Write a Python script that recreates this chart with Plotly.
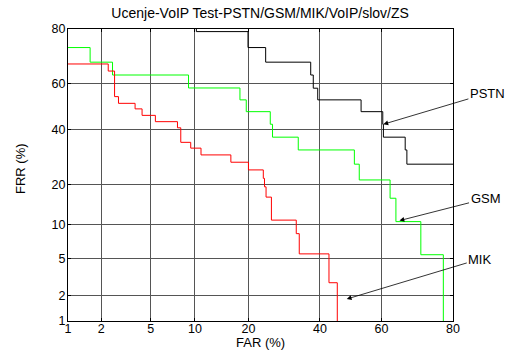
import plotly.graph_objects as go
from statistics import NormalDist

nd = NormalDist()

def probit(v):
    return [nd.inv_cdf(p / 100.0) for p in v]

# Data (percent), step curves (corner points)
pstn_far = [10.2, 10.2, 19.9, 24.2, 37.1, 37.9, 39.3, 53.4, 60.4, 60.6, 67.3, 67.8, 85.0]
pstn_frr = [95.0, 79.2, 73.9, 68.5, 63.4, 57.9, 52.9, 47.8, 42.4, 37.0, 31.9, 26.6, 26.6]

gsm_far = [0.5, 1.6, 2.5, 9.1, 18.1, 19.5, 25.4, 26.0, 33.3, 51.2, 52.8, 62.7, 64.5, 71.8, 77.7]
gsm_frr = [73.9, 68.5, 63.4, 58.0, 52.9, 47.8, 42.4, 37.0, 31.9, 26.6, 21.3, 16.0, 10.6, 5.4, 0.5]

mik_far = [0.5, 2.3, 2.6, 2.8, 3.8, 4.3, 5.4, 7.7, 8.1, 9.4, 10.9, 16.2, 20.0, 23.6, 23.9,
           24.3, 25.7, 32.7, 33.6, 42.9, 45.6]
mik_frr = [67.8, 65.0, 54.3, 51.4, 49.0, 46.2, 43.5, 40.9, 34.9, 32.6, 30.0, 27.3, 24.6, 21.8,
           19.2, 16.3, 10.9, 8.4, 5.5, 2.8, 0.5]

tick_vals = [1, 2, 5, 10, 20, 40, 60, 80]
tick_text = [str(t) for t in tick_vals]

labels = ["PSTN", "GSM", "MIK"]
arrow_tip_far = [60.6, 65.6, 48.7]
arrow_tip_frr = [42.4, 10.8, 1.84]

FONT = "Liberation Sans, Arial"
W, H = 507, 350
ML, MR, MT, MB = 68, 54, 29, 29

fig = go.Figure()
for far, frr, col, name in [(pstn_far, pstn_frr, "#000000", "PSTN"),
                            (gsm_far, gsm_frr, "#00ff00", "GSM"),
                            (mik_far, mik_frr, "#ff0000", "MIK")]:
    fig.add_trace(go.Scatter(x=probit(far), y=probit(frr), mode="lines",
                             line=dict(color=col, width=1, shape="hv"),
                             name=name, showlegend=False, hoverinfo="skip"))

offsets = [(104, -31), (86, -22), (133, -40)]
for lab, fx, fy, (ax, ay) in zip(labels, arrow_tip_far, arrow_tip_frr, offsets):
    fig.add_annotation(x=nd.inv_cdf(fx / 100), y=nd.inv_cdf(fy / 100), text=lab,
                       ax=ax, ay=ay, showarrow=True, arrowhead=2, arrowsize=1.2,
                       arrowwidth=0.8, arrowcolor="black",
                       font=dict(family=FONT, size=13, color="black"))

pw, ph = W - ML - MR, H - MT - MB
# axis titles as paper annotations
fig.add_annotation(text="FAR (%)", xref="paper", yref="paper",
                   x=(260 - ML) / pw, y=-(342 - (H - MB)) / ph,
                   showarrow=False, xanchor="center", yanchor="middle",
                   font=dict(family=FONT, size=13, color="black"))
fig.add_annotation(text="FRR (%)", xref="paper", yref="paper",
                   x=(21 - ML) / pw, y=1 - (169 - MT) / ph, textangle=-90,
                   showarrow=False, xanchor="center", yanchor="middle",
                   font=dict(family=FONT, size=13, color="black"))

axis_common = dict(
    tickvals=probit(tick_vals), ticktext=tick_text,
    showgrid=True, gridcolor="#555555", gridwidth=1,
    showline=True, linecolor="black", linewidth=1, mirror="ticks",
    ticks="inside", ticklen=3, tickcolor="black",
    zeroline=False, automargin=False,
    tickfont=dict(family=FONT, size=12.5, color="black"),
)

fig.update_xaxes(range=[nd.inv_cdf(0.01), nd.inv_cdf(0.8)], ticklabelstandoff=-4,
                 **axis_common)
fig.update_yaxes(range=[nd.inv_cdf(0.01), nd.inv_cdf(0.8)], ticklabelstandoff=-1,
                 **axis_common)

fig.update_layout(
    width=W, height=H,
    margin=dict(l=ML, r=MR, t=MT, b=MB, autoexpand=False),
    plot_bgcolor="white", paper_bgcolor="white",
    title=dict(text="Ucenje-VoIP Test-PSTN/GSM/MIK/VoIP/slov/ZS", x=0.513, xanchor="center",
               y=1 - 13 / 350, yanchor="middle", yref="container",
               font=dict(family=FONT, size=14, color="black")),
)

fig.write_html("out.html", config={"displayModeBar": False},
               post_script="document.body.style.margin='0';document.body.style.overflow='hidden';")
